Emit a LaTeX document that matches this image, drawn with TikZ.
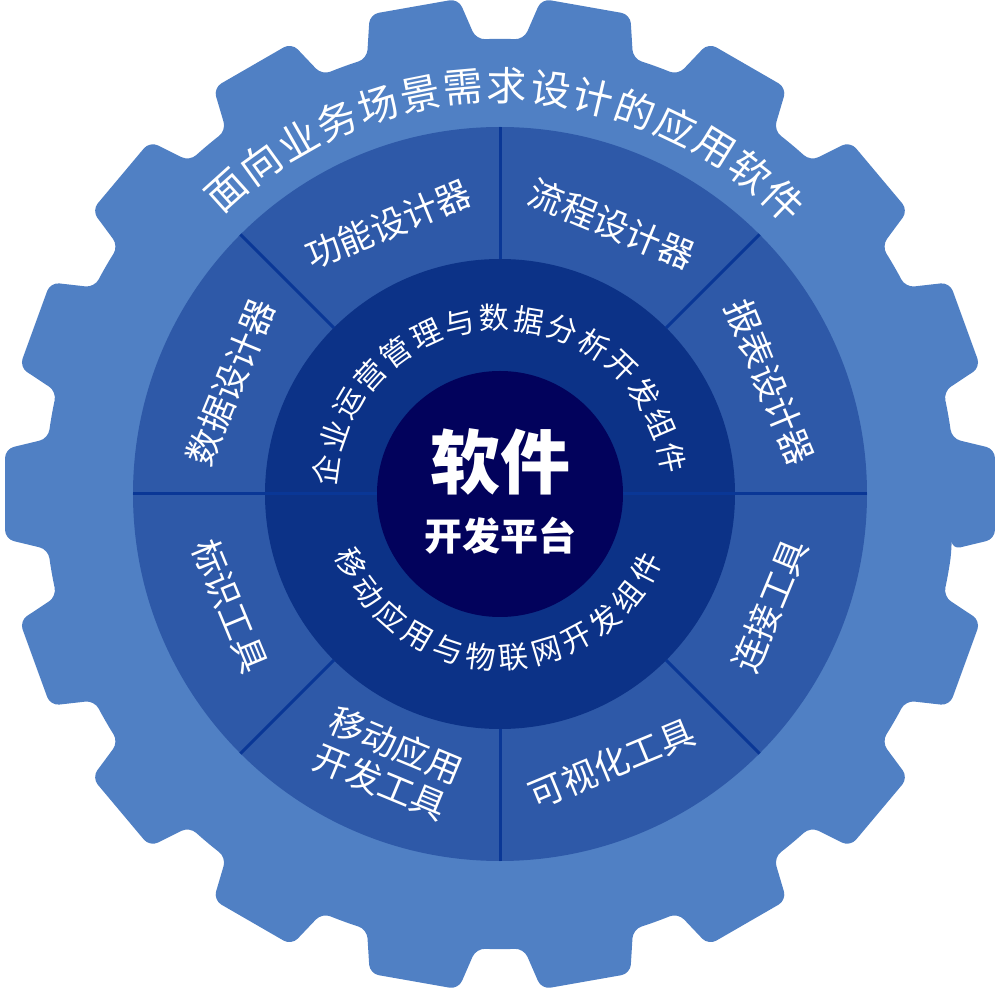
\documentclass[tikz,border=0pt]{standalone}
\usepackage{fontspec}
\setmainfont{Noto Sans CJK SC}
\begin{document}
\definecolor{gearc}{RGB}{80,128,196}
\definecolor{ringb}{RGB}{46,89,168}
\definecolor{ringc}{RGB}{12,50,135}
\definecolor{corec}{RGB}{2,2,92}
\definecolor{linec}{RGB}{10,55,150}
\begin{tikzpicture}[x=1pt,y=1pt,
  lab/.style={text=white,font=\fontsize{35}{40}\selectfont,inner sep=0pt,align=center},
  outch/.style={text=white,font=\fontsize{40}{40}\selectfont,inner sep=0pt},
  inch/.style={text=white,font=\fontsize{30}{30}\selectfont,inner sep=0pt},
  divider/.style={draw=linec,line width=3pt}]
\useasboundingbox (-500,-498) rectangle (500,494);
% gear
\fill[gearc,rounded corners=9pt] (-7:455)
  \foreach \a in {0,20,...,340} {
    -- (\a-5.2:497) -- (\a+5.2:497) -- (\a+7:455)
    arc[start angle=\a+7, delta angle=6, radius=455] } -- cycle;
\fill[ringb] (0,0) coordinate (c) circle[radius=367];
\fill[ringc] (c) circle[radius=235];
\foreach \a in {45,90,...,315} \draw[divider] (\a:235) -- (\a:367);
\draw[divider] (0:123) -- (0:367);
\draw[divider] (180:123) -- (180:367);
\fill[corec] (c) circle[radius=123];
% center text
\node[text=white,font=\fontsize{70}{70}\selectfont\bfseries] (t1) at (0,32) {软件};
\node[text=white,font=\fontsize{38}{38}\selectfont\bfseries] (t2) at (0,-42) {开发平台};
% sector labels
\node[lab,rotate=22.5] (s1) at (112.5:292) {功能设计器};
\node[lab,rotate=-22.5] (s2) at (67.5:292) {流程设计器};
\node[lab,rotate=-67.5] (s3) at (22.5:292) {报表设计器};
\node[lab,rotate=67.5] (s4) at (157.5:292) {数据设计器};
\node[lab,rotate=-67.5] (s5) at (202.5:292) {标识工具};
\node[lab,rotate=-22.5] (s6) at (247.5:292) {移动应用\\开发工具};
\node[lab,rotate=22.5] (s7) at (292.5:292) {可视化工具};
\node[lab,rotate=67.5] (s8) at (337.5:292) {连接工具};
% outer arc text
\foreach \ch [count=\i] in {面,向,业,务,场,景,需,求,设,计,的,应,用,软,件}
  \node[outch,rotate={132-(\i-1)*6.143-90}] (o\i) at ({132-(\i-1)*6.143}:408) {\ch};
% inner top arc text
\foreach \ch [count=\i] in {企,业,运,营,管,理,与,数,据,分,析,开,发,组,件}
  \node[inch,rotate={172-(\i-1)*11.43-90}] (u\i) at ({172-(\i-1)*11.43}:176) {\ch};
% inner bottom arc text
\foreach \ch [count=\i] in {移,动,应,用,与,物,联,网,开,发,组,件}
  \node[inch,rotate={205+(\i-1)*11.64+90}] (d\i) at ({205+(\i-1)*11.64}:164) {\ch};
\end{tikzpicture}
\end{document}
